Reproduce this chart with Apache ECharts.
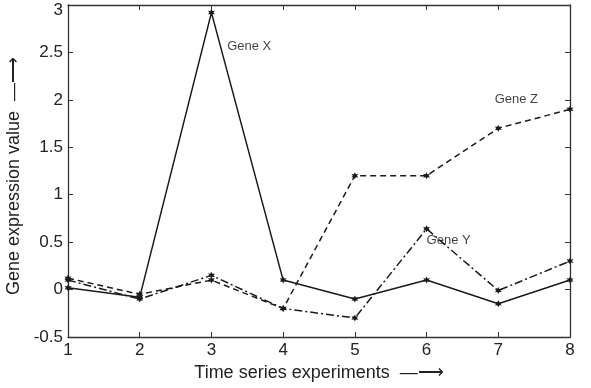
<!DOCTYPE html>
<html><head><meta charset="utf-8">
<script src="https://cdn.jsdelivr.net/npm/echarts@6/dist/echarts.min.js"></script>
<style>html,body{margin:0;padding:0;background:#fff}#c{width:591px;height:388px}</style>
</head><body><div id="c"></div>
<script>
const experiments = [1, 2, 3, 4, 5, 6, 7, 8];
const geneX = [0.02, -0.08, 2.92, 0.1, -0.1, 0.1, -0.15, 0.1];
const geneZ = [0.12, -0.05, 0.1, -0.2, 1.2, 1.2, 1.7, 1.9];
const geneY = [0.1, -0.1, 0.15, -0.2, -0.3, 0.64, -0.01, 0.3];
const labels = [
  {name: 'Gene X', x: 3.22, y: 2.56},
  {name: 'Gene Z', x: 6.95, y: 2.0},
  {name: 'Gene Y', x: 6.0, y: 0.52}
];
const xTitle = 'Time series experiments  \u2014\u27F6';
const yTitle = 'Gene expression value  \u2014\u27F6';

const star = 'path://M0,-10 L2.5,-4.3 L8.7,-5 L5,0 L8.7,5 L2.5,4.3 L0,10 L-2.5,4.3 L-8.7,5 L-5,0 L-8.7,-5 L-2.5,-4.3 Z';
const col = '#1a1a1a';
function mk(name, vals, type) {
  return {
    name: name, type: 'line',
    data: experiments.map((e, i) => [e, vals[i]]),
    symbol: star, symbolSize: 7, showSymbol: true,
    itemStyle: {color: col},
    lineStyle: {color: col, width: 1.5, type: type},
    animation: false, z: 3
  };
}
const series = [
  mk('Gene X', geneX, 'solid'),
  mk('Gene Z', geneZ, [6, 4]),
  mk('Gene Y', geneY, [8, 3, 2, 3]),
  {
    type: 'scatter', symbolSize: 0, silent: true, animation: false,
    data: labels.map(l => ({value: [l.x, l.y], name: l.name})),
    label: {show: true, position: 'right', distance: 0, formatter: p => p.name,
      fontFamily: 'Liberation Sans, Arial, sans-serif', fontSize: 13, color: '#111'}
  }
];
const lab = {fontFamily: 'Liberation Sans, Arial, sans-serif', fontSize: 17, color: '#222'};
const ttl = {fontFamily: 'Liberation Sans, Arial, sans-serif', fontSize: 18, color: '#222'};
const axLine = {show: true, onZero: false, lineStyle: {color: '#333', width: 1.3}};
const tick = {show: true, inside: true, length: 5, lineStyle: {color: '#333'}};
const chart = echarts.init(document.getElementById('c'), null, {renderer: 'canvas'});
chart.setOption({
  backgroundColor: '#fff',
  grid: {left: 68, right: 21, top: 5, bottom: 51, containLabel: false, outerBoundsMode: 'none'},
  xAxis: [{
    type: 'value', min: 1, max: 8, interval: 1,
    axisLine: axLine, axisTick: tick,
    splitLine: {show: false},
    axisLabel: Object.assign({margin: 5}, lab),
    name: xTitle, nameLocation: 'middle', nameGap: 25,
    nameTextStyle: Object.assign({}, ttl, {padding: [0, 0, 0, 0]})
  }, {
    type: 'value', position: 'top', min: 1, max: 8, interval: 1,
    axisLine: axLine, axisTick: tick,
    splitLine: {show: false}, axisLabel: {show: false}
  }],
  yAxis: [{
    type: 'value', min: -0.5, max: 3, interval: 0.5,
    axisLine: axLine, axisTick: tick,
    splitLine: {show: false},
    axisLabel: Object.assign({margin: 5,
      formatter: v => v === 3 ? '{t|' + v + '}' : String(v),
      rich: {t: Object.assign({padding: [10, 0, 0, 0]}, lab)}}, lab),
    name: yTitle, nameLocation: 'middle', nameGap: 34,
    nameTextStyle: Object.assign({}, ttl, {padding: [0, 10, 0, 0]})
  }, {
    type: 'value', position: 'right', min: -0.5, max: 3, interval: 0.5,
    axisLine: axLine, axisTick: tick,
    splitLine: {show: false}, axisLabel: {show: false}
  }],
  series: series
});
</script></body></html>
